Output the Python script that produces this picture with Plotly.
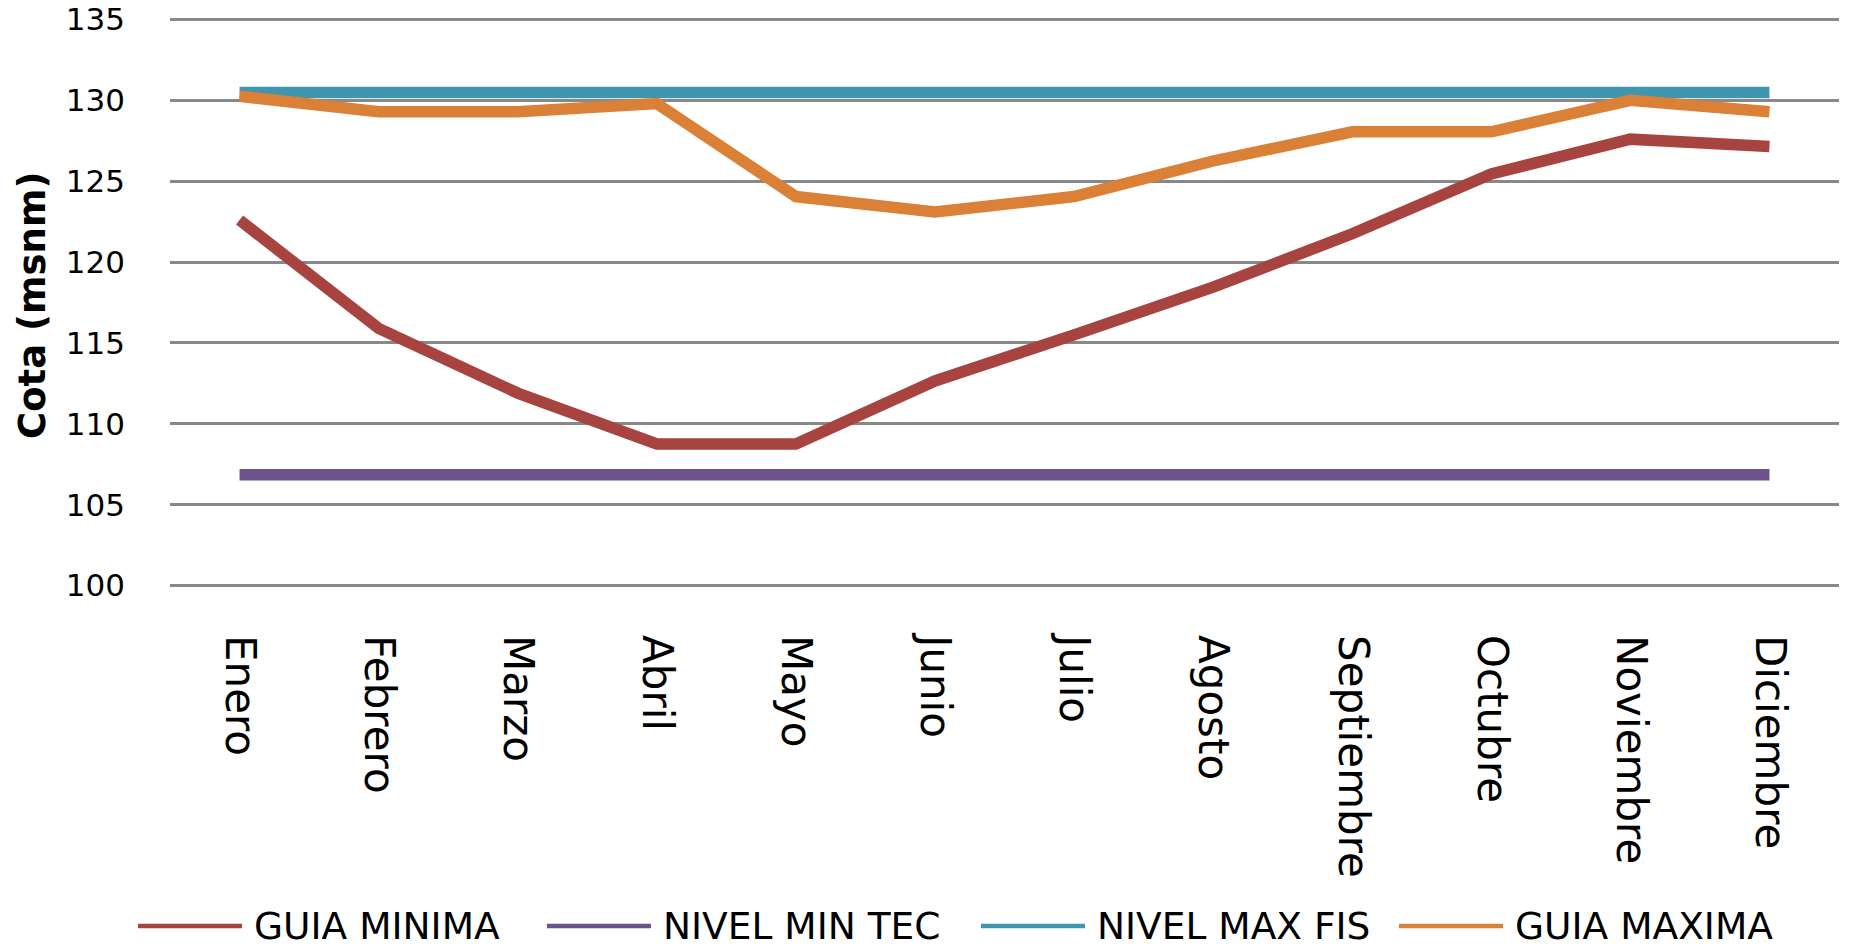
import plotly.graph_objects as go

# Monthly categories
meses = ["Enero", "Febrero", "Marzo", "Abril", "Mayo", "Junio", "Julio",
         "Agosto", "Septiembre", "Octubre", "Noviembre", "Diciembre"]

# Elevation series (msnm)
guia_minima = [122.6, 115.9, 111.9, 108.75, 108.75, 112.65, 115.5,
               118.45, 121.75, 125.45, 127.6, 127.15]
nivel_min_tec = [106.85] * 12
nivel_max_fis = [130.48] * 12
guia_maxima = [130.25, 129.3, 129.3, 129.8, 124.05, 123.1, 124.05,
               126.25, 128.05, 128.05, 130.0, 129.3]

y_ticks = [100, 105, 110, 115, 120, 125, 130, 135]

series_names = ["GUIA MINIMA", "NIVEL MIN TEC", "NIVEL MAX FIS", "GUIA MAXIMA"]
series_values = [guia_minima, nivel_min_tec, nivel_max_fis, guia_maxima]
series_colors = ["#A84440", "#6C548B", "#3F96AE", "#DA8037"]

W, H = 1854, 947
M_L, M_R, M_T, M_B = 170, 15, 13, 355
plot_w = W - M_L - M_R
plot_h = H - M_T - M_B


def paper_x(px):
    return (px - M_L) / plot_w


def paper_y(py):
    return (H - M_B - py) / plot_h


font_family = "DejaVu Sans"

fig = go.Figure()
for name, vals, color in zip(series_names, series_values, series_colors):
    fig.add_trace(go.Scatter(
        x=meses, y=vals, name=name, mode="lines",
        line=dict(color=color, width=11.5),
    ))

# Legend row below the month labels: long line swatch followed by the name
legend_starts = [138, 547, 981, 1399]
swatch_len = 104
legend_row_y = 926
shapes = []
annotations = []
for start, name, color in zip(legend_starts, series_names, series_colors):
    shapes.append(dict(
        type="line", xref="paper", yref="paper",
        x0=paper_x(start), x1=paper_x(start + swatch_len),
        y0=paper_y(legend_row_y), y1=paper_y(legend_row_y),
        line=dict(color=color, width=4.5),
    ))
    annotations.append(dict(
        text=name, xref="paper", yref="paper",
        x=paper_x(start + swatch_len + 10), y=paper_y(legend_row_y),
        xanchor="left", yanchor="middle", showarrow=False,
        font=dict(family=font_family, size=37.5, color="black"),
    ))

annotations.append(dict(
    text="<b>Cota (msnm)</b>", textangle=-90,
    x=paper_x(33), y=paper_y(306), xref="paper", yref="paper",
    xanchor="center", yanchor="middle", showarrow=False,
    font=dict(family=font_family, size=37, color="black"),
))

fig.update_layout(
    width=W, height=H,
    margin=dict(l=M_L, r=M_R, t=M_T, b=M_B),
    paper_bgcolor="white", plot_bgcolor="white",
    showlegend=False,
    xaxis=dict(
        type="category", range=[-0.5, 11.5], automargin=False,
        tickangle=90, showgrid=False, zeroline=False, showline=False,
        tickfont=dict(family=font_family, size=42, color="black"),
        ticklabelstandoff=42,
    ),
    yaxis=dict(
        range=[99.6, 135.4], tickvals=y_ticks, automargin=False,
        showgrid=True, gridcolor="#888888", gridwidth=3,
        zeroline=False, showline=False,
        tickfont=dict(family=font_family, size=31, color="black"),
        ticklabelstandoff=44,
    ),
    shapes=shapes,
    annotations=annotations,
)

fig.write_html("out.html")
